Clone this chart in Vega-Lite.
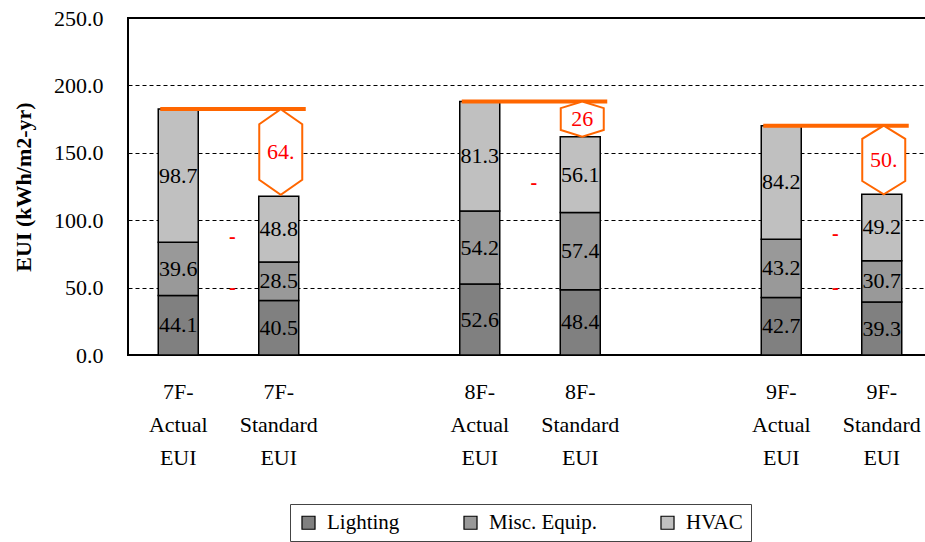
{
  "$schema": "https://vega.github.io/schema/vega-lite/v6.json",
  "width": 804,
  "height": 337,
  "autosize": "none",
  "padding": {"left": 128, "top": 18, "right": 0, "bottom": 187},
  "background": "white",
  "config": {
    "view": {"stroke": "black", "strokeWidth": 2}
  },
  "datasets": {
    "bars": [
      {"cat": "7F- Actual EUI", "component": "Lighting", "idx": 1, "value": 44.1},
      {"cat": "7F- Actual EUI", "component": "Misc. Equip.", "idx": 2, "value": 39.6},
      {"cat": "7F- Actual EUI", "component": "HVAC", "idx": 3, "value": 98.7},
      {"cat": "7F- Standard EUI", "component": "Lighting", "idx": 1, "value": 40.5},
      {"cat": "7F- Standard EUI", "component": "Misc. Equip.", "idx": 2, "value": 28.5},
      {"cat": "7F- Standard EUI", "component": "HVAC", "idx": 3, "value": 48.8},
      {"cat": "8F- Actual EUI", "component": "Lighting", "idx": 1, "value": 52.6},
      {"cat": "8F- Actual EUI", "component": "Misc. Equip.", "idx": 2, "value": 54.2},
      {"cat": "8F- Actual EUI", "component": "HVAC", "idx": 3, "value": 81.3},
      {"cat": "8F- Standard EUI", "component": "Lighting", "idx": 1, "value": 48.4},
      {"cat": "8F- Standard EUI", "component": "Misc. Equip.", "idx": 2, "value": 57.4},
      {"cat": "8F- Standard EUI", "component": "HVAC", "idx": 3, "value": 56.1},
      {"cat": "9F- Actual EUI", "component": "Lighting", "idx": 1, "value": 42.7},
      {"cat": "9F- Actual EUI", "component": "Misc. Equip.", "idx": 2, "value": 43.2},
      {"cat": "9F- Actual EUI", "component": "HVAC", "idx": 3, "value": 84.2},
      {"cat": "9F- Standard EUI", "component": "Lighting", "idx": 1, "value": 39.3},
      {"cat": "9F- Standard EUI", "component": "Misc. Equip.", "idx": 2, "value": 30.7},
      {"cat": "9F- Standard EUI", "component": "HVAC", "idx": 3, "value": 49.2}
    ],
    "totals": [
      {"floor": "7F", "actual": "7F- Actual EUI", "standard": "7F- Standard EUI", "total": 182.4, "mid": 150.6, "diff": "64."},
      {"floor": "8F", "actual": "8F- Actual EUI", "standard": "8F- Standard EUI", "total": 188.1, "mid": 175.0, "diff": "26"},
      {"floor": "9F", "actual": "9F- Actual EUI", "standard": "9F- Standard EUI", "total": 170.1, "mid": 144.7, "diff": "50."}
    ],
    "dashes": [
      {"cat": "7F- Actual EUI", "v": 87.5},
      {"cat": "7F- Actual EUI", "v": 49.7},
      {"cat": "8F- Actual EUI", "v": 127.6},
      {"cat": "9F- Actual EUI", "v": 89.8},
      {"cat": "9F- Actual EUI", "v": 49.7}
    ]
  },
  "layer": [
    {
      "data": {"name": "bars"},
      "mark": {"type": "bar", "width": 40, "stroke": "black", "strokeWidth": 1.5},
      "encoding": {
        "x": {
          "field": "cat", "type": "nominal",
          "scale": {"domain": ["7F- Actual EUI", "7F- Standard EUI", "gap1", "8F- Actual EUI", "8F- Standard EUI", "gap2", "9F- Actual EUI", "9F- Standard EUI"], "paddingInner": 0, "paddingOuter": 0},
          "axis": {
            "title": null, "labelAngle": 0,
            "labelExpr": "indexof(datum.value, 'gap') == 0 ? '' : split(datum.value, ' ')",
            "labelFont": "Liberation Serif, Times New Roman, serif", "labelFontSize": 22, "labelColor": "black",
            "labelLineHeight": 33, "labelPadding": 26, "labelBaseline": "top",
            "ticks": false, "domainColor": "black"
          }
        },
        "y": {
          "field": "value", "type": "quantitative", "stack": "zero",
          "scale": {"domain": [0, 250], "nice": false},
          "axis": {
            "title": "EUI (kWh/m2-yr)", "format": ".1f", "values": [0, 50, 100, 150, 200, 250],
            "titleFont": "Liberation Serif, Times New Roman, serif", "titleFontSize": 22, "titleFontWeight": "bold", "titleColor": "black", "titlePadding": 18,
            "labelFont": "Liberation Serif, Times New Roman, serif", "labelFontSize": 22, "labelColor": "black", "labelPadding": 25,
            "ticks": false, "gridColor": "black", "gridDash": [4, 3], "domainColor": "black"
          }
        },
        "order": {"field": "idx"},
        "fill": {
          "field": "component", "type": "nominal",
          "scale": {"domain": ["Lighting", "Misc. Equip.", "HVAC"], "range": ["#808080", "#999999", "#C0C0C0"]},
          "legend": {
            "orient": "none", "legendX": 162, "legendY": 486, "direction": "horizontal", "title": null,
            "strokeColor": "#444444", "fillColor": "white", "padding": 8,
            "symbolType": "square", "symbolSize": 170, "symbolStrokeColor": "black", "symbolStrokeWidth": 1.2,
            "labelFont": "Liberation Serif, Times New Roman, serif", "labelFontSize": 21, "labelColor": "black",
            "columnPadding": 60, "labelOffset": 8
          }
        }
      }
    },
    {
      "data": {"name": "bars"},
      "transform": [
        {"stack": "value", "groupby": ["cat"], "sort": [{"field": "idx"}], "as": ["lo", "hi"]},
        {"calculate": "(datum.lo + datum.hi) / 2", "as": "labelPos"}
      ],
      "mark": {"type": "text", "font": "Liberation Serif, Times New Roman, serif", "fontSize": 22, "color": "black"},
      "encoding": {
        "x": {"field": "cat", "type": "nominal"},
        "y": {"field": "labelPos", "type": "quantitative"},
        "text": {"field": "value", "type": "quantitative", "format": ".1f"}
      }
    },
    {
      "data": {"name": "totals"},
      "mark": {"type": "rule", "color": "#FF6600", "strokeWidth": 4, "xOffset": -18, "x2Offset": 27},
      "encoding": {
        "x": {"field": "actual", "type": "nominal"},
        "x2": {"field": "standard"},
        "y": {"field": "total", "type": "quantitative"}
      }
    },
    {
      "data": {"name": "totals"},
      "mark": {"type": "point", "filled": true, "fill": "white", "stroke": "#FF6600", "strokeWidth": 2, "opacity": 1, "size": 1849, "xOffset": 2},
      "encoding": {
        "x": {"field": "standard", "type": "nominal"},
        "y": {"field": "mid", "type": "quantitative"},
        "shape": {
          "field": "floor", "type": "nominal",
          "scale": {"domain": ["7F", "8F", "9F"], "range": [
            "M0,-1.99L1,-1.29L1,1.29L0,1.99L-1,1.29L-1,-1.29Z",
            "M0,-0.82L1,-0.51L1,0.51L0,0.82L-1,0.51L-1,-0.51Z",
            "M0,-1.6L1,-0.98L1,0.98L0,1.6L-1,0.98L-1,-0.98Z"
          ]},
          "legend": null
        }
      }
    },
    {
      "data": {"name": "totals"},
      "mark": {"type": "text", "font": "Liberation Serif, Times New Roman, serif", "fontSize": 22, "color": "#FF0000", "xOffset": 2},
      "encoding": {
        "x": {"field": "standard", "type": "nominal"},
        "y": {"field": "mid", "type": "quantitative"},
        "text": {"field": "diff"}
      }
    },
    {
      "data": {"name": "dashes"},
      "mark": {"type": "text", "font": "Liberation Serif, Times New Roman, serif", "fontSize": 20, "fontWeight": "bold", "color": "#FF0000", "xOffset": 54},
      "encoding": {
        "x": {"field": "cat", "type": "nominal"},
        "y": {"field": "v", "type": "quantitative"},
        "text": {"value": "-"}
      }
    }
  ]
}
